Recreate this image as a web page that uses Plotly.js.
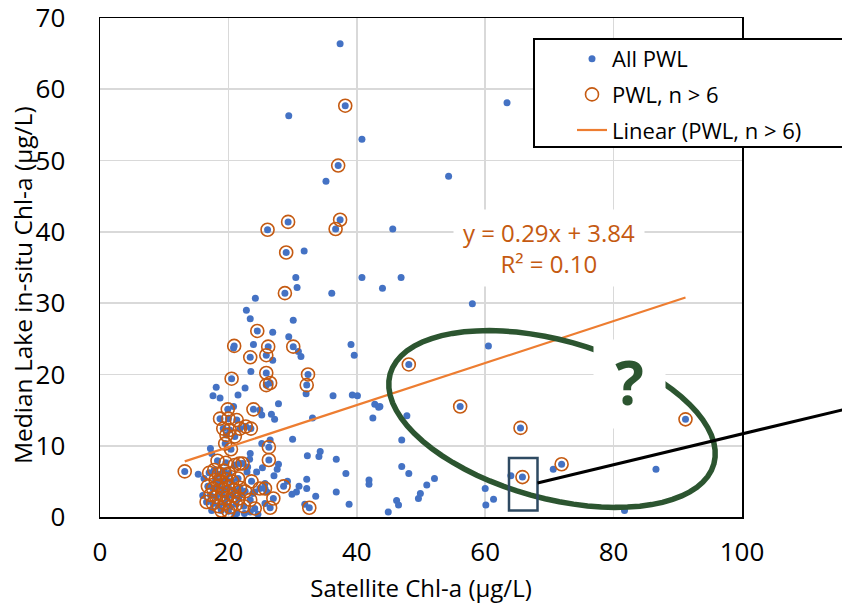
<!DOCTYPE html>
<html><head><meta charset="utf-8">
<script src="https://cdn.plot.ly/plotly-3.0.1.min.js"></script>
<style>html,body{margin:0;padding:0;background:#fff}#chart{width:842px;height:605px}</style>
</head><body><div id="chart"></div>
<script>
// PWL with n > 6 (orange circles)
const pwlX = [38.2,37.1,29.3,26.1,37.4,36.7,29.0,28.8,
  24.5,20.9,26.2,30.1,23.4,25.9,20.5,25.9,26.5,25.9,32.4,32.2,23.9,19.9,18.7,20.0,21.3,19.2,20.2,21.8,22.7,23.5,19.7,21.0,19.5,20.4,26.3,26.3,13.2,21.7,22.2,21.0,28.6,25.7,27.0,26.5,32.6,23.4,23.6,24.9,
  48.1,56.1,65.5,65.8,71.9,91.2,
  17.0,17.8,18.5,19.3,20.1,18.0,18.9,19.7,20.6,21.5,16.8,17.6,18.4,19.2,20.0,20.9,21.8,22.6,17.2,18.1,19.0,19.8,20.7,21.6,16.6,17.6,18.5,19.4,20.3,21.2,22.4,18.9,20.0,19.6,18.3,24.1];
const pwlY = [57.7,49.3,41.4,40.3,41.7,40.4,37.1,31.4,
  26.1,24.0,23.9,23.9,22.4,22.7,19.4,20.2,18.8,18.5,20.0,18.5,15.1,15.1,13.8,13.8,13.6,12.4,12.2,12.4,12.7,12.4,11.5,11.3,10.3,9.5,9.8,8.0,6.4,7.5,7.5,7.3,4.3,4.0,2.6,1.3,1.3,2.4,5.0,4.0,
  21.4,15.5,12.5,5.6,7.4,13.7,
  6.2,6.6,6.0,6.5,6.1,5.2,5.0,5.3,5.0,5.4,4.3,4.0,4.4,3.9,4.2,3.8,4.1,3.6,3.1,2.8,3.2,2.7,3.0,2.6,2.1,1.9,1.5,1.9,1.4,1.8,1.5,0.9,0.8,7.6,7.9,1.2];
// Other PWL (blue dots only)
const otherX = [37.4,63.4,29.4,40.8,54.3,35.2,45.6,31.8,30.5,40.8,46.9,30.7,44.0,36.1,24.2,22.8,58.0,23.4,30.1,26.9,29.4,60.5,23.9,20.8,39.1,39.6,26.9,30.9,31.3,23.5,
  18.1,17.6,18.7,21.5,22.6,32.1,36.3,39.3,40.1,42.8,43.4,42.5,43.6,47.8,27.8,20.8,24.9,25.2,26.7,27.2,33.1,30.0,26.5,25.2,47.0,17.2,17.4,23.4,23.3,34.3,34.1,32.3,36.8,27.8,27.6,25.3,27.1,38.3,32.2,29.2,31.0,30.6,29.9,32.2,41.9,41.9,36.8,33.6,31.9,38.8,25.7,44.9,15.3,47.0,48.1,52.1,50.9,49.9,49.6,46.2,46.5,60.0,61.3,60.1,64.0,70.6,86.6,81.7,
  16.2,22.9,23.8,22.5,24.6,21.0,17.4,23.0,24.4,16.0,23.4,21.3,22.1,24.1,25.7,26.0];
const otherY = [66.4,58.1,56.3,53.0,47.8,47.1,40.4,37.3,33.6,33.6,33.6,32.2,32.1,31.4,30.7,29.0,29.9,27.8,27.6,25.9,25.3,24.0,24.2,23.7,24.2,22.7,22.0,23.2,22.5,20.4,
  18.2,17.0,16.7,17.1,18.1,17.3,17.0,17.1,17.0,15.8,15.4,13.9,15.5,14.2,15.9,15.5,15.0,14.3,14.4,13.7,13.9,10.9,10.8,10.3,10.8,9.6,8.9,8.9,8.1,9.2,8.5,8.6,8.1,7.4,6.7,6.9,5.8,6.1,5.3,5.0,4.3,3.5,3.2,4.0,5.2,4.6,3.5,2.9,1.8,1.8,1.9,0.7,6.0,7.1,6.1,5.4,4.5,3.3,2.6,2.3,1.7,4.0,2.5,1.7,5.8,6.7,6.7,0.9,
  5.4,6.3,3.3,0.5,0.4,0.3,0.9,7.0,6.3,3.0,0.7,0.5,3.3,3.5,4.7,3.5];
// Linear trend (PWL, n > 6) end points as drawn
const trendX = [13.2, 91.2];
const trendY = [7.8, 30.8];
const xTicks = [0,20,40,60,80,100];
const yTicks = [0,10,20,30,40,50,60,70];
const xTitle = 'Satellite Chl-a (µg/L)';
const yTitle = 'Median Lake in-situ Chl-a (µg/L)';

const allX = otherX.concat(pwlX);
const allY = otherY.concat(pwlY);

const FONT = 'Open Sans, Noto Sans, sans-serif';
const L = 100, T = 18, W = 642, H = 499;
const px = v => (v - L) / W;
const py = v => (T + H - v) / H;

function ellipsePath(cx, cy, a, b, phiDeg) {
  const phi = phiDeg * Math.PI / 180;
  let d = '';
  for (let i = 0; i <= 72; i++) {
    const t = i / 72 * 2 * Math.PI;
    const x = cx + a * Math.cos(t) * Math.cos(phi) - b * Math.sin(t) * Math.sin(phi);
    const y = cy + a * Math.cos(t) * Math.sin(phi) + b * Math.sin(t) * Math.cos(phi);
    d += (i === 0 ? 'M' : 'L') + px(x).toFixed(5) + ',' + py(y).toFixed(5);
  }
  return d + 'Z';
}

const traces = [
  {x: allX, y: allY, type: 'scatter', mode: 'markers', name: 'All PWL', legendgroup: 'a',
   marker: {color: '#4472C4', size: 7}},
  {x: pwlX, y: pwlY, type: 'scatter', mode: 'markers', name: 'PWL, n > 6', legendgroup: 'b',
   marker: {color: '#C55A11', size: 13, symbol: 'circle-open', line: {width: 1.6}}},
  {x: trendX, y: trendY, type: 'scatter', mode: 'lines', name: 'Linear (PWL, n > 6)', legendgroup: 'c',
   line: {color: '#ED7D31', width: 2.2}}
];

const layout = {
  width: 842, height: 605,
  margin: {l: L, r: 842 - L - W, t: T, b: 605 - T - H},
  paper_bgcolor: '#fff', plot_bgcolor: '#fff',
  font: {family: FONT, color: '#000'},
  hovermode: false,
  showlegend: true,
  xaxis: {range: [0, 100], tickvals: xTicks, ticktext: xTicks.map(String),
    showgrid: true, gridcolor: '#D9D9D9', gridwidth: 1.8, zeroline: false,
    showline: true, linecolor: '#000', linewidth: 1.5, mirror: true, ticks: '',
    tickfont: {size: 26, family: FONT, color: '#000'}, ticklabelstandoff: 11, ticklabeloverflow: 'allow',
    title: {text: xTitle, font: {size: 24, family: FONT, color: '#000'}, standoff: 12}},
  yaxis: {range: [0, 70], tickvals: yTicks, ticktext: yTicks.map(String),
    showgrid: true, gridcolor: '#D9D9D9', gridwidth: 1.8, zeroline: false,
    showline: true, linecolor: '#000', linewidth: 1.5, mirror: true, ticks: '',
    tickfont: {size: 26, family: FONT, color: '#000'}, ticklabelstandoff: 28, ticklabeloverflow: 'allow'},
  legend: {x: px(572), y: py(38), xanchor: 'left', yanchor: 'top',
    bgcolor: 'rgba(0,0,0,0)', borderwidth: 0, tracegroupgap: 4,
    font: {size: 22, family: FONT, color: '#000'}},
  shapes: [
    {type: 'rect', xref: 'paper', yref: 'paper', x0: px(534), x1: px(852), y0: py(147), y1: py(39),
     fillcolor: '#fff', line: {color: '#000', width: 2}, layer: 'above'},
    {type: 'path', xref: 'paper', yref: 'paper', path: ellipsePath(552, 419, 168, 79, 15.5),
     line: {color: '#2C5530', width: 5.5}, fillcolor: 'rgba(0,0,0,0)', layer: 'above'},
    {type: 'rect', xref: 'paper', yref: 'paper', x0: px(509), x1: px(537.5), y0: py(510.5), y1: py(458),
     line: {color: '#2E4A62', width: 2.5}, fillcolor: 'rgba(0,0,0,0)', layer: 'above'},
    {type: 'line', xref: 'paper', yref: 'paper', x0: px(537.5), y0: py(483), x1: px(850), y1: py(408),
     line: {color: '#000', width: 3}, layer: 'above'}
  ],
  annotations: [
    {xref: 'paper', yref: 'paper', x: px(22), y: py(285), xanchor: 'center', yanchor: 'middle',
     text: yTitle, textangle: -90, showarrow: false,
     font: {size: 24.5, family: FONT, color: '#000'}},
    {xref: 'paper', yref: 'paper', x: px(549), y: py(248), xanchor: 'center', yanchor: 'middle',
     text: 'y = 0.29x + 3.84<br>R² = 0.10', showarrow: false, bgcolor: '#fff',
     width: 188, height: 74, font: {size: 24, family: FONT, color: '#C55A11'}},
    {xref: 'paper', yref: 'paper', x: px(629.5), y: py(384), xanchor: 'center', yanchor: 'middle',
     text: '<b>?</b>', showarrow: false, bgcolor: '#fff', width: 69, height: 86, valign: 'top',
     font: {size: 60, family: FONT, color: '#2C5530'}}
  ]
};

Plotly.newPlot('chart', traces, layout, {displayModeBar: false, staticPlot: true});
</script></body></html>
